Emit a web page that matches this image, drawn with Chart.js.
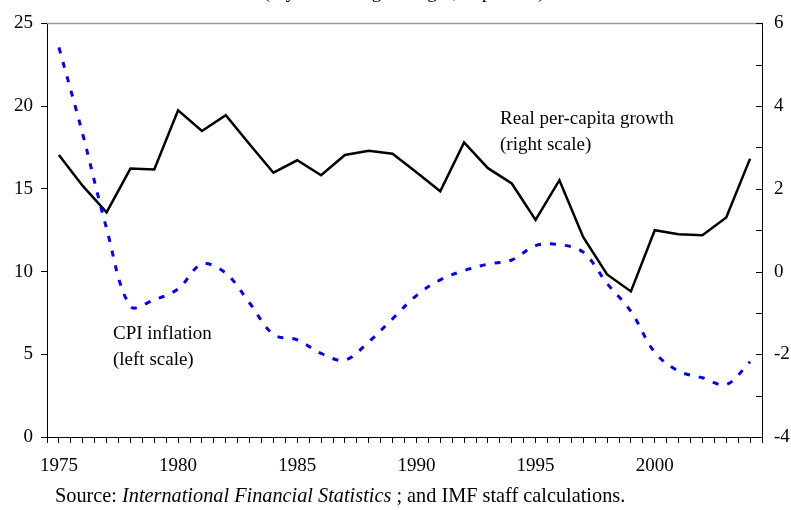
<!DOCTYPE html>
<html>
<head>
<meta charset="utf-8">
<script src="https://cdn.jsdelivr.net/npm/chart.js@4"></script>
<style>
  html, body { margin: 0; padding: 0; background: #fff; }
  #wrap { position: relative; width: 791px; height: 510px; overflow: hidden; font-family: "Liberation Serif", "Times New Roman", serif; color: #000; }
  #chart { position: absolute; left: 0; top: 0; }
  .note { position: absolute; font-size: 19px; line-height: 26px; white-space: nowrap; }
  #source { font-size: 20.3px; }
  #title { position: absolute; top: -18px; left: 404px; transform: translateX(-50%); font-size: 19px; line-height: 19px; white-space: nowrap; }
</style>
</head>
<body>
<div id="wrap">
  <canvas id="chart" width="791" height="510"></canvas>
  <div id="title">(5-year moving averages; in percent)</div>
  <div class="note" style="left:500px; top:105px;">Real per-capita growth<br>(right scale)</div>
  <div class="note" style="left:113px; top:320px;">CPI inflation<br>(left scale)</div>
  <div class="note" id="source" style="left:55px; top:482px;">Source: <i>International Financial Statistics</i> ; and IMF staff calculations.</div>
</div>
<script>
// ─── Data ────────────────────────────────────────────────────────────────────
const years = [1975, 1976, 1977, 1978, 1979, 1980, 1981, 1982, 1983, 1984,
               1985, 1986, 1987, 1988, 1989, 1990, 1991, 1992, 1993, 1994,
               1995, 1996, 1997, 1998, 1999, 2000, 2001, 2002, 2003, 2004];

// CPI inflation, left scale (percent)
const cpiInflation = [23.55, 18.3, 12.6, 7.9, 8.3, 8.95, 10.45, 9.9, 8.1, 6.2,
                      5.87, 5.05, 4.65, 5.75, 7.15, 8.55, 9.5, 10.06, 10.45, 10.7,
                      11.57, 11.63, 11.17, 9.28, 7.59, 5.12, 3.98, 3.58, 3.17, 4.55];

// Real per-capita growth, right scale (percent)
const realGrowth = [2.82, 2.07, 1.43, 2.49, 2.47, 3.90, 3.40, 3.78, 3.08, 2.39,
                    2.69, 2.33, 2.82, 2.92, 2.85, 2.40, 1.94, 3.12, 2.50, 2.13,
                    1.25, 2.21, 0.83, -0.07, -0.48, 1.00, 0.90, 0.88, 1.31, 2.73];

const leftTicks = [0, 5, 10, 15, 20, 25];
const rightTicks = [-4, -2, 0, 2, 4, 6];
const yearLabels = [1975, 1980, 1985, 1990, 1995, 2000];

const FONT = { family: '"Liberation Serif", "Times New Roman", serif', size: 19 };

// ─── Frame plugin: grey top border, inward ticks on the right axis ──────────
const framePlugin = {
    id: 'frame',
    afterDraw(chart) {
        const { ctx, chartArea: a, scales } = chart;
        ctx.save();
        ctx.strokeStyle = '#9a9a9a';
        ctx.lineWidth = 1.5;
        ctx.beginPath();
        ctx.moveTo(a.left, a.top);
        ctx.lineTo(a.right, a.top);
        ctx.stroke();

        const y2 = scales.y2;
        ctx.strokeStyle = '#000';
        ctx.lineWidth = 1;
        y2.ticks.forEach(t => {
            const py = Math.round(y2.getPixelForValue(t.value)) + 0.5;
            ctx.beginPath();
            ctx.moveTo(a.right - 6, py);
            ctx.lineTo(a.right, py);
            ctx.stroke();
        });
        ctx.restore();
    }
};

const fixWidth = w => scale => { scale.width = w; };

new Chart(document.getElementById('chart'), {
    type: 'line',
    data: {
        datasets: [
            {
                label: 'CPI inflation',
                data: years.map((yr, i) => ({ x: yr, y: cpiInflation[i] })),
                yAxisID: 'y',
                borderColor: '#0000ff',
                borderWidth: 3,
                borderDash: [6, 9],
                tension: 0.35,
                pointRadius: 0,
                fill: false
            },
            {
                label: 'Real per-capita growth',
                data: years.map((yr, i) => ({ x: yr, y: realGrowth[i] })),
                yAxisID: 'y2',
                borderColor: '#000',
                borderWidth: 2.5,
                tension: 0,
                pointRadius: 0,
                fill: false
            }
        ]
    },
    options: {
        responsive: false,
        animation: false,
        devicePixelRatio: 1,
        layout: { padding: { top: 22, bottom: 33, left: 0, right: 0 } },
        plugins: {
            legend: { display: false },
            tooltip: { enabled: false }
        },
        scales: {
            x: {
                type: 'linear',
                min: years[0] - 0.5,
                max: years[years.length - 1] + 0.5,
                afterFit: scale => { scale.height = 40; },
                border: { color: '#000', width: 1 },
                grid: { drawOnChartArea: false, drawTicks: true, tickLength: 6, color: '#000' },
                ticks: {
                    stepSize: 0.5,
                    autoSkip: false,
                    maxRotation: 0,
                    padding: 12,
                    color: '#000',
                    font: FONT,
                    callback: v => yearLabels.includes(v) ? String(v) : ''
                }
            },
            y: {
                position: 'left',
                min: leftTicks[0],
                max: leftTicks[leftTicks.length - 1],
                afterFit: fixWidth(47),
                border: { color: '#000', width: 1 },
                grid: { drawOnChartArea: false, drawTicks: true, tickLength: 6, color: '#000' },
                ticks: { stepSize: 5, padding: 8, color: '#000', font: FONT }
            },
            y2: {
                position: 'right',
                min: rightTicks[0],
                max: rightTicks[rightTicks.length - 1],
                afterFit: fixWidth(29),
                border: { color: '#000', width: 1 },
                grid: { drawOnChartArea: false, drawTicks: false },
                ticks: {
                    stepSize: 1,
                    padding: 12,
                    color: '#000',
                    font: FONT,
                    callback: v => rightTicks.includes(v) ? String(v) : ''
                }
            }
        }
    },
    plugins: [framePlugin]
});
</script>
</body>
</html>
